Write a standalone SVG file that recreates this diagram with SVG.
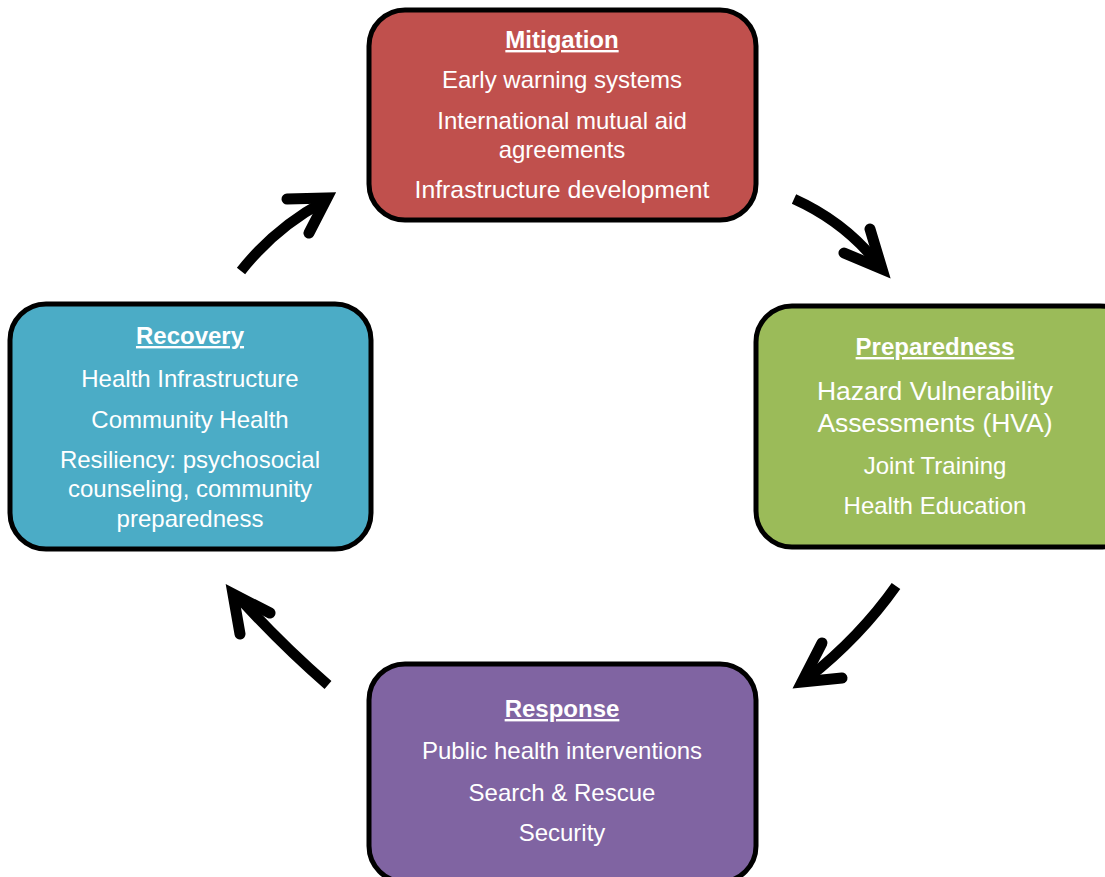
<svg xmlns="http://www.w3.org/2000/svg" width="1105" height="877" viewBox="0 0 1105 877">
<style>
.box{stroke:#000;stroke-width:5}
text{font-family:"Liberation Sans",Arial,sans-serif;fill:#fff;text-anchor:middle}
.t{font-weight:bold;font-size:24px;text-decoration:underline}
.b{font-size:24px}
.l{font-size:26.5px}
.arr{fill:none;stroke:#000;stroke-width:10.5}
.head{fill:none;stroke:#000;stroke-width:11;stroke-linecap:round;stroke-linejoin:miter;stroke-miterlimit:10}
</style>
<rect width="1105" height="877" fill="#fff"/>
<g id="mitigation">
<rect class="box" x="369" y="10" width="387" height="210" rx="36" fill="#C0504D"/>
<text class="t" x="562" y="48">Mitigation</text>
<text class="b" x="562" y="88">Early warning systems</text>
<text class="b" x="562" y="129">International mutual aid</text>
<text class="b" x="562" y="158">agreements</text>
<text class="b" x="562" y="198" style="font-size:24.8px">Infrastructure development</text>
</g>
<g id="preparedness">
<rect class="box" x="756" y="306" width="380" height="241" rx="36" fill="#9BBB59"/>
<text class="t" x="935" y="355">Preparedness</text>
<text class="l" x="935" y="400">Hazard Vulnerability</text>
<text class="l" x="935" y="432">Assessments (HVA)</text>
<text class="b" x="935" y="474">Joint Training</text>
<text class="b" x="935" y="514">Health Education</text>
</g>
<g id="recovery">
<rect class="box" x="10" y="304" width="361" height="245" rx="36" fill="#4BACC6"/>
<text class="t" x="190" y="344">Recovery</text>
<text class="b" x="190" y="387">Health Infrastructure</text>
<text class="b" x="190" y="428">Community Health</text>
<text class="b" x="190" y="468">Resiliency: psychosocial</text>
<text class="b" x="190" y="497">counseling, community</text>
<text class="b" x="190" y="527">preparedness</text>
</g>
<g id="response">
<rect class="box" x="369" y="664" width="387" height="218" rx="36" fill="#8064A2"/>
<text class="t" x="562" y="717">Response</text>
<text class="b" x="562" y="759">Public health interventions</text>
<text class="b" x="562" y="801">Search &amp; Rescue</text>
<text class="b" x="562" y="841">Security</text>
</g>
<g id="connectors">
<path class="arr" d="M241,271 Q275,228 323,202"/>
<polyline class="head" points="287,199 327,198 309,233"/>
<path class="arr" d="M794,199 Q845,222 878,264"/>
<polyline class="head" points="870,229 882,269 844,253"/>
<path class="arr" d="M896,586 Q860,637 808,678"/>
<polyline class="head" points="822,643 802,682 842,678"/>
<path class="arr" d="M328,685 Q285,648 240,599"/>
<polyline class="head" points="240,634 233,594 270,613"/>
</g>
</svg>
